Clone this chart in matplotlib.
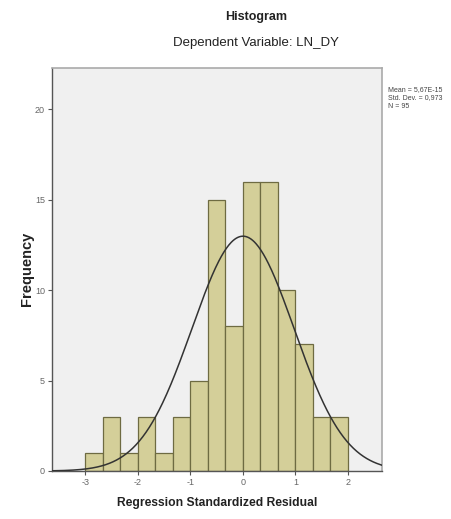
import numpy as np
import matplotlib
matplotlib.use("Agg")
import matplotlib.pyplot as plt

# Data
bin_edges = [-3.0 + i / 3.0 for i in range(16)]
counts = [1, 3, 1, 3, 1, 3, 5, 15, 8, 16, 16, 10, 7, 3, 3]
mean_val = 0.0
std_val = 0.973
n_val = 95
x_ticks = [-3, -2, -1, 0, 1, 2]
y_ticks = [0, 5, 10, 15, 20]
stats_lines = ["Mean = 5,67E-15", "Std. Dev. = 0,973", "N = 95"]

fam = ['Liberation Sans Narrow', 'Liberation Sans', 'DejaVu Sans']
plt.rcParams['font.family'] = fam
plt.rcParams['axes.unicode_minus'] = False

W, H = 451, 519
fig = plt.figure(figsize=(W / 100, H / 100), dpi=100)
fig.patch.set_facecolor('white')

left, right, top, bottom = 52, 381.7, 67.7, 471
ax = fig.add_axes([left / W, 1 - bottom / H, (right - left) / W, (bottom - top) / H])
ax.set_facecolor('#f0f0f0')

widths = np.diff(bin_edges)
ax.bar(bin_edges[:-1], counts, width=widths, align='edge',
       color='#d4cf99', edgecolor='#6e6b42', linewidth=0.9, zorder=2)

bw = bin_edges[1] - bin_edges[0]
xs = np.linspace(-3.64, 2.64, 400)
ys = n_val * bw * np.exp(-0.5 * ((xs - mean_val) / std_val) ** 2) / (std_val * np.sqrt(2 * np.pi))
ax.plot(xs, ys, color='#333333', linewidth=1.1, zorder=3)

ax.set_xlim(-3.638, 2.642)
ax.set_ylim(0, 22.3)
ax.set_xticks(x_ticks)
ax.set_yticks(y_ticks)
ax.tick_params(axis='both', labelsize=6.5, colors='#555555', length=3, width=0.8,
               direction='out', pad=2)
for lab in ax.get_xticklabels() + ax.get_yticklabels():
    lab.set_color('#666666')

for s in ['left', 'bottom']:
    ax.spines[s].set_color('#555555')
    ax.spines[s].set_linewidth(1.0)
for s in ['top', 'right']:
    ax.spines[s].set_color('#aaaaaa')
    ax.spines[s].set_linewidth(1.2)

ax.set_xlabel('Regression Standardized Residual', fontsize=8.7, fontweight='bold', color='#222222', labelpad=7)
ax.set_ylabel('Frequency', fontsize=10.5, fontweight='bold', color='#222222', labelpad=1)

fig.text(256 / W, 1 - 17 / H, 'Histogram', ha='center', va='center', fontsize=9, fontweight='bold', color='#222222')
fig.text(256 / W, 1 - 43 / H, 'Dependent Variable: LN_DY', ha='center', va='center', fontsize=9.5, color='#222222')

for i, t in enumerate(stats_lines):
    fig.text(388 / W, 1 - (90 + i * 8) / H, t, ha='left', va='center', fontsize=5, color='#444444')

fig.savefig('out.png', dpi=100, facecolor='white')
